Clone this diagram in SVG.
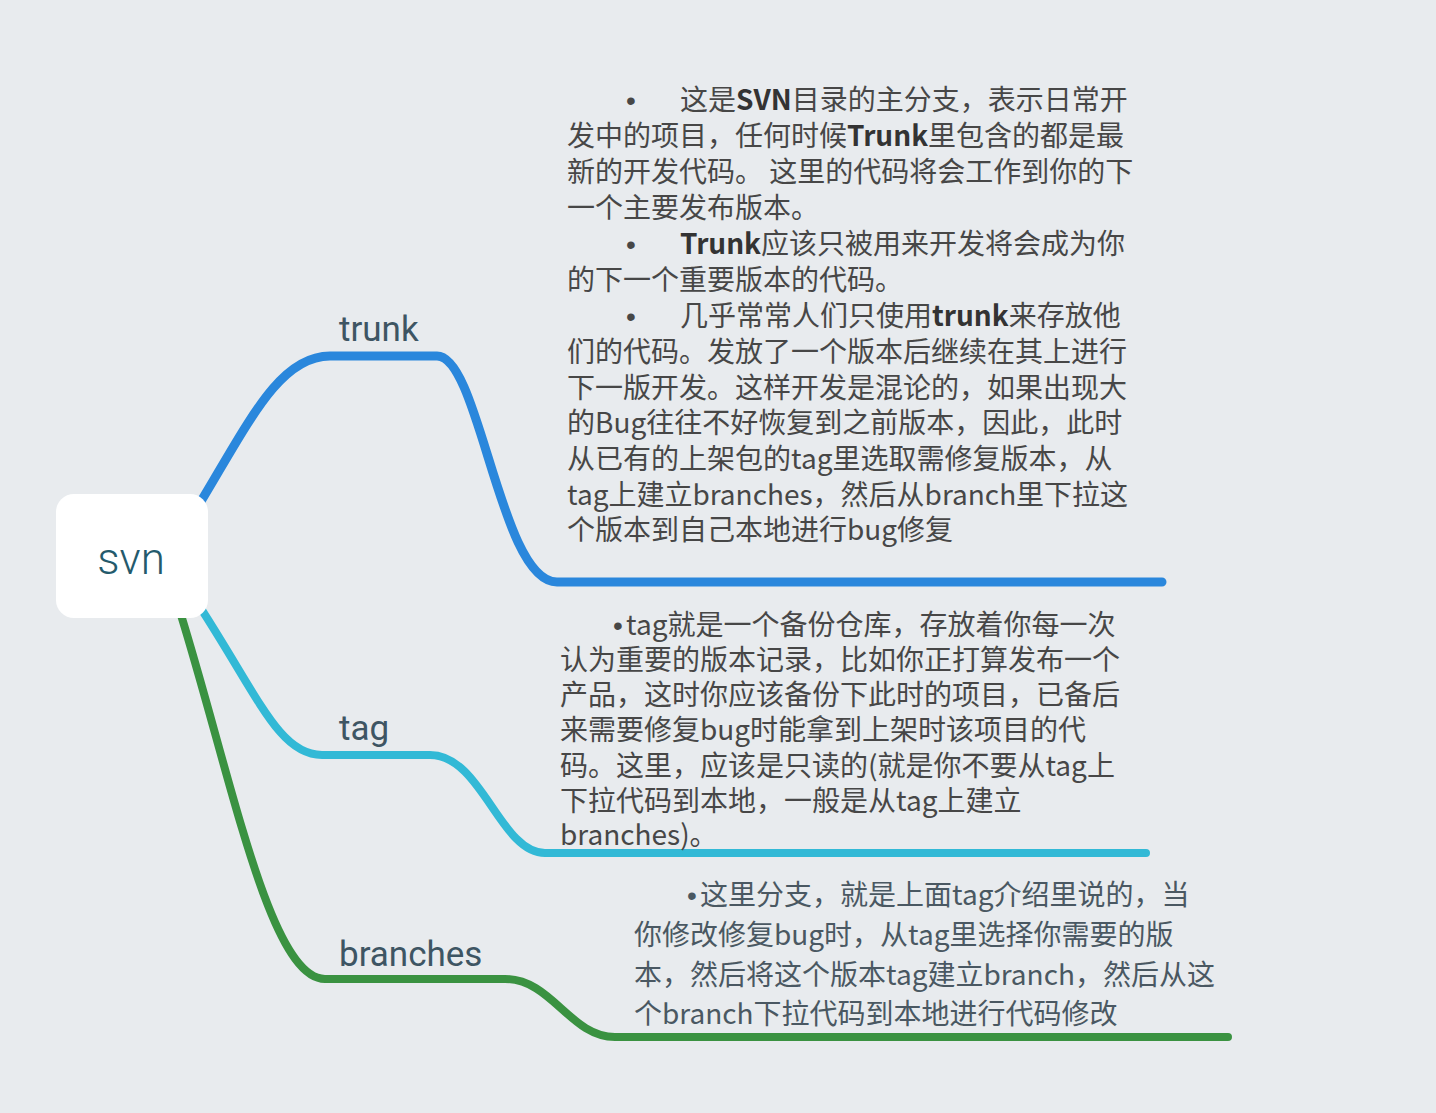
<svg xmlns="http://www.w3.org/2000/svg" width="1436" height="1113" viewBox="0 0 1436 1113">
<style>
.bg{fill:#e8ebee}
.conn{fill:none;stroke-linecap:round;stroke-linejoin:round}
.lbl{font-family:Roboto,"Liberation Sans",sans-serif;font-weight:400;font-size:35px;fill:#3e5563}
.body{font-family:"Noto Sans CJK SC","Noto Sans",sans-serif;font-size:28px;fill:#474747}
.bodyb{font-family:"Noto Sans CJK SC","Noto Sans",sans-serif;font-size:28px;fill:#4a5862}
.b{font-weight:bold;fill:#333}
.bul{font-family:"Liberation Sans",sans-serif}
</style>
<rect class="bg" x="0" y="0" width="1436" height="1113"/>
<g id="connectors">
  <path class="conn" stroke="#2a87dc" stroke-width="9" d="M200 503 C250 420 280 356 330 356 L437 356 C480 356 500 582 557 582 L1162 582"/>
  <path class="conn" stroke="#32b9d6" stroke-width="8" d="M200 607 C260 700 280 755 322 755 L430 755 C482 755 500 853 545 853 L1146 853"/>
  <path class="conn" stroke="#3a9241" stroke-width="8" d="M181 615 C232 780 270 979 325 979 L505 979 C552 979 570 1037 615 1037 L1228 1037"/>
</g>
<g id="node-svn">
  <rect x="56" y="494" width="152" height="124" rx="18" fill="#ffffff"/>
  <text x="131" y="574" text-anchor="middle" font-family="Roboto, Liberation Sans, sans-serif" font-weight="300" font-size="44" fill="#245a6c">svn</text>
</g>
<g id="node-trunk">
  <text class="lbl" x="339" y="341">trunk</text>
</g>
<g id="node-tag">
  <text class="lbl" x="339" y="740">tag</text>
</g>
<g id="node-branches">
  <text class="lbl" x="339" y="966">branches</text>
</g>
<g id="note-trunk">
  <text class="body">
    <tspan class="bul" x="626" y="110">•</tspan><tspan x="680" y="110">这是<tspan class="b">SVN</tspan>目录的主分支，表示日常开</tspan>
    <tspan x="567" y="146">发中的项目，任何时候<tspan class="b">Trunk</tspan>里包含的都是最</tspan>
    <tspan x="567" y="182">新的开发代码。 这里的代码将会工作到你的下</tspan>
    <tspan x="567" y="218">一个主要发布版本。</tspan>
    <tspan class="bul" x="626" y="254">•</tspan><tspan x="680" y="254"><tspan class="b">Trunk</tspan>应该只被用来开发将会成为你</tspan>
    <tspan x="567" y="290">的下一个重要版本的代码。</tspan>
    <tspan class="bul" x="626" y="326">•</tspan><tspan x="680" y="326">几乎常常人们只使用<tspan class="b">trunk</tspan>来存放他</tspan>
    <tspan x="567" y="362">们的代码。发放了一个版本后继续在其上进行</tspan>
    <tspan x="567" y="398">下一版开发。这样开发是混论的，如果出现大</tspan>
    <tspan x="567" y="433">的Bug往往不好恢复到之前版本，因此，此时</tspan>
    <tspan x="567" y="469">从已有的上架包的tag里选取需修复版本，从</tspan>
    <tspan x="567" y="505">tag上建立branches，然后从branch里下拉这</tspan>
    <tspan x="567" y="540">个版本到自己本地进行bug修复</tspan>
  </text>
</g>
<g id="note-tag">
  <text class="body">
    <tspan class="bul" x="613" y="635">•</tspan><tspan x="626" y="635">tag就是一个备份仓库，存放着你每一次</tspan>
    <tspan x="560" y="670">认为重要的版本记录，比如你正打算发布一个</tspan>
    <tspan x="560" y="705">产品，这时你应该备份下此时的项目，已备后</tspan>
    <tspan x="560" y="740">来需要修复bug时能拿到上架时该项目的代</tspan>
    <tspan x="560" y="776">码。这里，应该是只读的(就是你不要从tag上</tspan>
    <tspan x="560" y="811">下拉代码到本地，一般是从tag上建立</tspan>
    <tspan x="560" y="845">branches)。</tspan>
  </text>
</g>
<g id="note-branches">
  <text class="bodyb">
    <tspan class="bul" x="687" y="905">•</tspan><tspan x="700" y="905">这里分支，就是上面tag介绍里说的，当</tspan>
    <tspan x="634" y="945">你修改修复bug时，从tag里选择你需要的版</tspan>
    <tspan x="634" y="985">本，然后将这个版本tag建立branch，然后从这</tspan>
    <tspan x="634" y="1024">个branch下拉代码到本地进行代码修改</tspan>
  </text>
</g>
</svg>
